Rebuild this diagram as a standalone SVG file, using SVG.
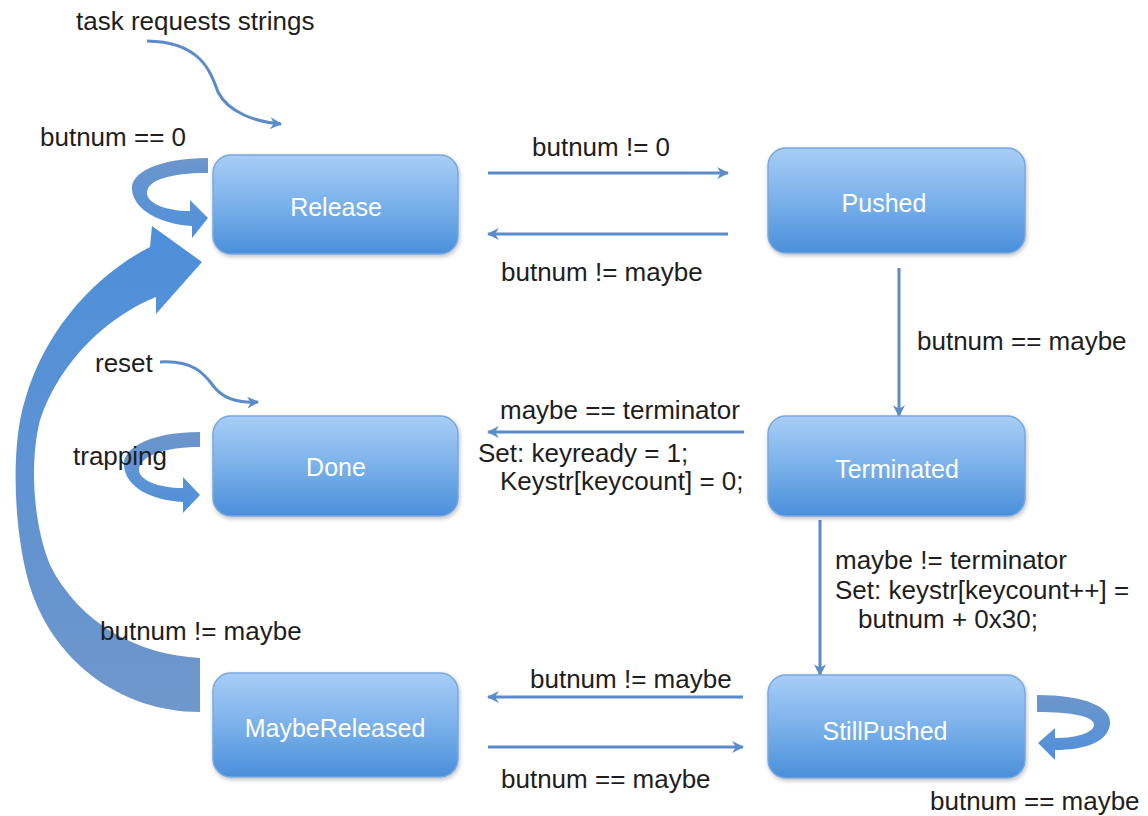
<svg xmlns="http://www.w3.org/2000/svg" width="1148" height="816" viewBox="0 0 1148 816">
<style>
.lbl{font-family:"Liberation Sans",Arial,sans-serif;font-size:26px;fill:#1e1e1e}
.ntx{font-family:"Liberation Sans",Arial,sans-serif;font-size:25px;fill:#ffffff;text-anchor:middle}
.box{fill:url(#ng);stroke:#79a8e0;stroke-width:1.5;filter:url(#sh)}
.con{fill:none;stroke:#5b8bc8;stroke-width:3;marker-end:url(#ah)}
.thin{fill:none;stroke:#5b8bc8;stroke-width:3;marker-end:url(#ah)}
.band{fill:url(#bg)}
</style>
<defs>
<linearGradient id="ng" x1="0" y1="0" x2="0" y2="1">
<stop offset="0" stop-color="#a8cdf6"/>
<stop offset="0.5" stop-color="#7ab1ea"/>
<stop offset="1" stop-color="#4a8fdb"/>
</linearGradient>
<linearGradient id="bg" x1="0" y1="0" x2="0" y2="1">
<stop offset="0" stop-color="#4d8fda"/>
<stop offset="1" stop-color="#6f97cb"/>
</linearGradient>
<linearGradient id="lg" x1="0" y1="0" x2="0" y2="1">
<stop offset="0" stop-color="#6d96cb"/>
<stop offset="1" stop-color="#4f90db"/>
</linearGradient>
<filter id="sh" x="-10%" y="-10%" width="120%" height="130%">
<feDropShadow dx="1" dy="2" stdDeviation="2" flood-color="#000" flood-opacity="0.25"/>
</filter>
<marker id="ah" markerWidth="12" markerHeight="12" refX="9" refY="5" orient="auto" markerUnits="userSpaceOnUse" viewBox="0 0 10 10">
<path d="M0,0 L10,5 L0,10 L3,5 Z" fill="#5b8bc8"/>
</marker>
</defs>

<g id="connectors">
<path class="band" d="M200,712 C120,712 50,660 28,580 C12,520 12,440 25,400 C45,330 95,275 150,247 L152,226 L202,262 L156,314 L156,297 C110,315 60,360 40,420 C30,460 32,520 50,565 C80,625 140,655 200,658 Z"/>
<path fill="url(#lg)" d="M208,158 C160,158 130,172 132,190 C134,210 160,224 192,226 L192,238 L208,218 L190,200 L190,211 C165,211 147,203 147,193 C147,180 170,173 208,173 Z"/>
<path fill="url(#lg)" d="M200,432 C150,432 122,448 124,466 C126,487 150,500 183,502 L183,513 L200,495 L183,477 L183,488 C158,488 139,480 139,470 C139,457 162,447 200,447 Z"/>
<path fill="url(#lg)" d="M1037,695 C1085,695 1112,707 1110,724 C1108,742 1085,750 1055,750 L1055,760 L1038,743 L1055,728 L1055,738 C1078,738 1094,732 1094,725 C1094,716 1072,712 1037,712 Z"/>
<path class="con" d="M488,173 L728,173"/>
<path class="con" d="M728,234 L488,234"/>
<path class="con" d="M899,268 L899,416"/>
<path class="con" d="M744,432 L488,432"/>
<path class="con" d="M820,520 L820,675"/>
<path class="con" d="M743,697 L488,697"/>
<path class="con" d="M488,747 L743,747"/>
<path class="thin" d="M147,41 C200,42 210,70 218,92 C228,112 255,122 281,124"/>
<path class="thin" d="M160,362 C195,360 205,375 215,388 C225,400 240,403 258,402"/>
</g>

<g id="labels">
<text class="lbl" x="76" y="30">task requests strings</text>
<text class="lbl" x="40" y="146">butnum == 0</text>
<text class="lbl" x="532" y="156">butnum != 0</text>
<text class="lbl" x="501" y="281">butnum != maybe</text>
<text class="lbl" x="917" y="350">butnum == maybe</text>
<text class="lbl" x="95" y="372">reset</text>
<text class="lbl" x="73" y="465">trapping</text>
<text class="lbl" x="500" y="419">maybe == terminator</text>
<text class="lbl" x="478" y="462">Set: keyready = 1;</text>
<text class="lbl" x="500" y="490">Keystr[keycount] = 0;</text>
<text class="lbl" x="835" y="569">maybe != terminator</text>
<text class="lbl" x="835" y="599">Set: keystr[keycount++] =</text>
<text class="lbl" x="858" y="628">butnum + 0x30;</text>
<text class="lbl" x="100" y="640">butnum != maybe</text>
<text class="lbl" x="530" y="688">butnum != maybe</text>
<text class="lbl" x="501" y="788">butnum == maybe</text>
<text class="lbl" x="930" y="810">butnum == maybe</text>
</g>

<g id="node-release"><rect class="box" x="213" y="155" width="245" height="99" rx="18"/><text class="ntx" x="336" y="216">Release</text></g>
<g id="node-pushed"><rect class="box" x="768" y="148" width="257" height="105" rx="18"/><text class="ntx" x="884" y="212">Pushed</text></g>
<g id="node-done"><rect class="box" x="213" y="416" width="245" height="100" rx="18"/><text class="ntx" x="336" y="476">Done</text></g>
<g id="node-terminated"><rect class="box" x="768" y="416" width="257" height="100" rx="18"/><text class="ntx" x="897" y="478">Terminated</text></g>
<g id="node-maybereleased"><rect class="box" x="213" y="673" width="245" height="104" rx="18"/><text class="ntx" x="335" y="737">MaybeReleased</text></g>
<g id="node-stillpushed"><rect class="box" x="768" y="675" width="257" height="103" rx="18"/><text class="ntx" x="885" y="740">StillPushed</text></g>
</svg>
